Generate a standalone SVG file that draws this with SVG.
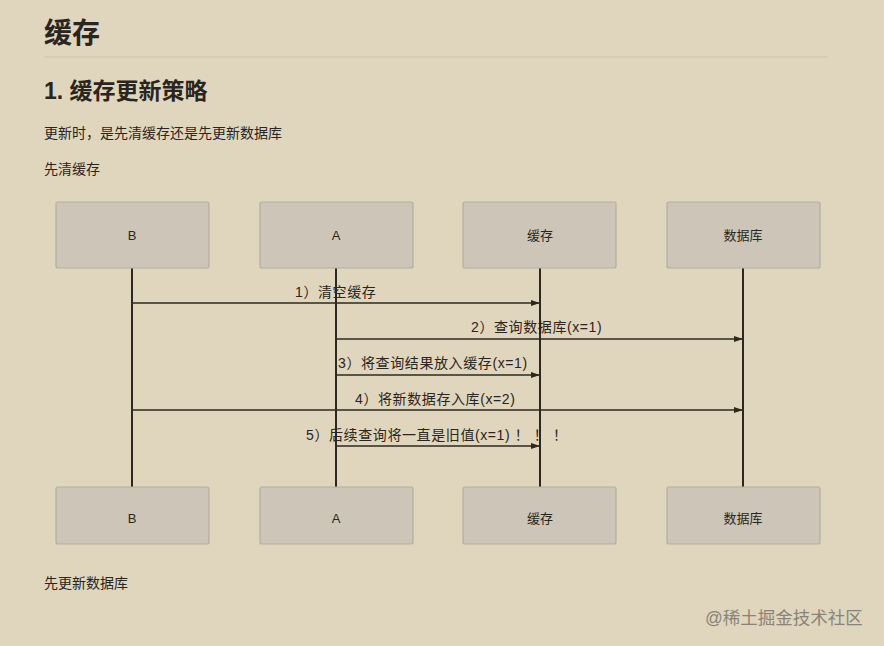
<svg xmlns="http://www.w3.org/2000/svg" width="884" height="646" viewBox="0 0 884 646">
<defs>
<marker id="ah" markerWidth="10" markerHeight="8" refX="9" refY="4" orient="auto" markerUnits="userSpaceOnUse">
<path d="M0,1 L9,4 L0,7 Z" fill="#2e2820"/>
</marker>
</defs>
<style>
text{font-family:"Liberation Sans","Noto Sans CJK SC",sans-serif;fill:#2a2520}
.h1{font-size:28px;font-weight:bold}
.h2{font-size:23px;font-weight:bold}
.p{font-size:14px}
.box{fill:#cdc6b8;stroke:#b5ad9e;stroke-width:1.2}
.nl{font-size:13px;text-anchor:middle}
.life{stroke:#2e2820;stroke-width:2}
.msg{stroke:#2e2820;stroke-width:1.6;fill:none;marker-end:url(#ah)}
.ml{font-size:14px;letter-spacing:0.6px}
</style>
<rect width="884" height="646" fill="#e0d6bd"/>
<text class="h1" x="44" y="43">缓存</text>
<line x1="44" y1="57" x2="828" y2="57" stroke="#cfc4aa" stroke-width="1"/>
<text class="h2" x="44" y="99">1. 缓存更新策略</text>
<text class="p" x="44" y="138">更新时，是先清缓存还是先更新数据库</text>
<text class="p" x="44" y="174">先清缓存</text>

<g id="lifelines">
<line class="life" x1="132" y1="268" x2="132" y2="487"/>
<line class="life" x1="336" y1="268" x2="336" y2="487"/>
<line class="life" x1="540" y1="268" x2="540" y2="487"/>
<line class="life" x1="743" y1="268" x2="743" y2="487"/>
</g>

<g id="node-B-top"><rect class="box" x="56" y="202" width="153" height="66" rx="2"/><text class="nl" x="132" y="240">B</text></g>
<g id="node-A-top"><rect class="box" x="260" y="202" width="153" height="66" rx="2"/><text class="nl" x="336" y="240">A</text></g>
<g id="node-cache-top"><rect class="box" x="463" y="202" width="153" height="66" rx="2"/><text class="nl" x="540" y="240">缓存</text></g>
<g id="node-db-top"><rect class="box" x="667" y="202" width="153" height="66" rx="2"/><text class="nl" x="743" y="240">数据库</text></g>

<g id="node-B-bottom"><rect class="box" x="56" y="487" width="153" height="57" rx="2"/><text class="nl" x="132" y="523">B</text></g>
<g id="node-A-bottom"><rect class="box" x="260" y="487" width="153" height="57" rx="2"/><text class="nl" x="336" y="523">A</text></g>
<g id="node-cache-bottom"><rect class="box" x="463" y="487" width="153" height="57" rx="2"/><text class="nl" x="540" y="523">缓存</text></g>
<g id="node-db-bottom"><rect class="box" x="667" y="487" width="153" height="57" rx="2"/><text class="nl" x="743" y="523">数据库</text></g>

<g id="connectors">
<line class="msg" x1="132" y1="303" x2="540" y2="303"/>
<line class="msg" x1="336" y1="339" x2="743" y2="339"/>
<line class="msg" x1="336" y1="375" x2="540" y2="375"/>
<line class="msg" x1="132" y1="410" x2="743" y2="410"/>
<line class="msg" x1="336" y1="446" x2="540" y2="446"/>
<text class="ml" x="295" y="297">1）清空缓存</text>
<text class="ml" x="471" y="332">2）查询数据库(x=1)</text>
<text class="ml" x="338" y="368">3）将查询结果放入缓存(x=1)</text>
<text class="ml" x="355" y="404">4）将新数据存入库(x=2)</text>
<text class="ml" x="306" y="440">5）后续查询将一直是旧值(x=1)  ！ ！ ！</text>
</g>

<text class="p" x="44" y="588">先更新数据库</text>
<text x="705" y="624" style="font-size:17.5px;fill:#8a8478">@稀土掘金技术社区</text>
</svg>
